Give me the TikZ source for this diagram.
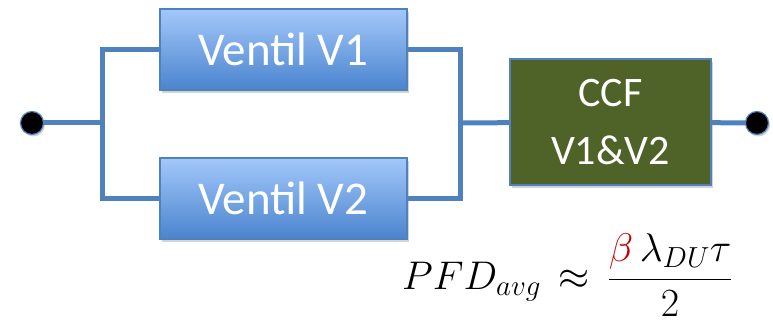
\RequirePackage{fix-cm}
\documentclass[tikz,border=0pt]{standalone}
\usepackage{fontspec}
\usepackage{amsmath}
\setmainfont{Carlito}
\newcommand\bigsub[1]{\text{\fontsize{29}{30}\selectfont$#1$}}
\usetikzlibrary{shadows,backgrounds}
\definecolor{wire}{HTML}{4F81BD}
\definecolor{boxtop}{HTML}{A3C8FA}
\definecolor{boxbot}{HTML}{4A84CE}
\definecolor{ccffill}{HTML}{4F6228}
\definecolor{betared}{HTML}{C00000}
\tikzset{
  wireline/.style={draw=wire, line width=5pt},
  sbox/.style={draw=wire, line width=1.5pt, top color=boxtop, bottom color=boxbot,
    minimum width=247pt, minimum height=81pt, inner sep=0pt, text=white,
    font=\fontsize{47}{50}\selectfont,
    drop shadow={shadow xshift=2pt, shadow yshift=-3pt, opacity=0.35}},
  ccfbox/.style={draw=wire, line width=1.5pt, fill=ccffill,
    minimum width=201pt, minimum height=126pt, inner sep=0pt, text=white, align=center,
    font=\fontsize{42}{58}\selectfont,
    drop shadow={shadow xshift=2pt, shadow yshift=-3pt, opacity=0.35}},
  terminal/.style={circle, fill=black, draw=wire, line width=1.2pt, minimum size=23pt, inner sep=0pt,
    drop shadow={shadow xshift=1.5pt, shadow yshift=-2pt, opacity=0.35}},
}
\begin{document}
\begin{tikzpicture}[x=1pt, y=-1pt]
  \useasboundingbox (0,0) rectangle (773,323);
  % junction points of the parallel branch
  \coordinate (split) at (102,123);
  \coordinate (join) at (460,123);
  % blocks and terminals
  \node[sbox] (v1) at (283.5,49.5) {Ventil V1};
  \node[sbox] (v2) at (283.5,198.5) {Ventil V2};
  \node[ccfbox] (ccf) at (610.5,122) {CCF\\V1\&V2};
  \node[terminal] (ldot) at (32,123) {};
  \node[terminal] (rdot) at (757,123) {};
  % wiring behind the blocks
  \begin{scope}[on background layer]
    \draw[wireline] (ldot.center) -- (split);
    \draw[wireline, line join=miter] (v1.center) -| (split) |- (v2.center);
    \draw[wireline, line join=miter] (v1.center) -| (join) |- (v2.center);
    \draw[wireline] (join) -- (ccf.center);
    \draw[wireline] (ccf.center) -- (rdot.center);
  \end{scope}
  % average probability of failure on demand
  \node[anchor=base west, inner sep=0pt, font=\fontsize{40}{46}\selectfont] (pfd) at (402,289)
    {$\displaystyle PFD_{\bigsub{avg}} \mathrel{\,\approx\,} \frac{\textcolor{betared}{\beta}\,\lambda_{\bigsub{DU}}\tau}{2}$};
\end{tikzpicture}
\end{document}
